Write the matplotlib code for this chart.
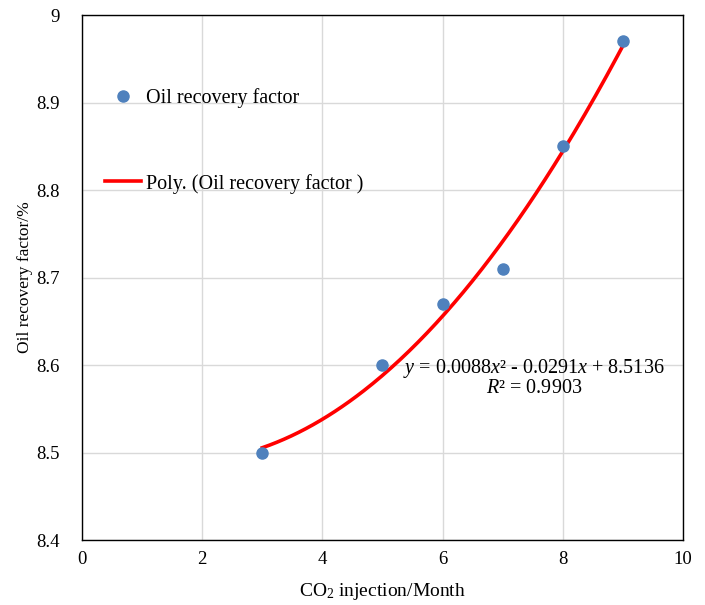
import matplotlib

matplotlib.use("Agg")
import matplotlib.pyplot as plt
import numpy as np

plt.rcParams["font.family"] = ["Liberation Serif", "DejaVu Serif"]
plt.rcParams["mathtext.fontset"] = "custom"
plt.rcParams["mathtext.rm"] = "Liberation Serif"
plt.rcParams["mathtext.it"] = "Liberation Serif:italic"

# data
months = [3, 5, 6, 7, 8, 9]
recovery = [8.50, 8.60, 8.67, 8.71, 8.85, 8.97]
x_ticks = [0, 2, 4, 6, 8, 10]
y_ticks = [8.4, 8.5, 8.6, 8.7, 8.8, 8.9, 9.0]
y_tick_labels = ["8.4", "8.5", "8.6", "8.7", "8.8", "8.9", "9"]

# second-order trend line, as Excel does it
coef = np.polyfit(months, recovery, 2)
xs = np.linspace(min(months), max(months), 200)

fig = plt.figure(figsize=(7.05, 6.05), dpi=100)
ax = fig.add_axes([0.1163, 0.1074, 0.8525, 0.8678])

ax.plot(months, recovery, "o", color="#4f81bd", markersize=8, zorder=3,
        label="Oil recovery factor")
ax.plot(xs, np.polyval(coef, xs), color="#ff0000", linewidth=2.6, zorder=2,
        label="Poly. (Oil recovery factor )")

ax.set_xlim(0, 10)
ax.set_ylim(8.4, 9.0)
ax.set_xticks(x_ticks)
ax.set_yticks(y_ticks)
ax.set_yticklabels(y_tick_labels)
ax.tick_params(length=0, labelsize=13.5)
ax.tick_params(axis="y", pad=16)
ax.tick_params(axis="x", pad=8)
ax.grid(True, color="#d9d9d9", linewidth=1.0)
ax.set_axisbelow(True)
for sp in ax.spines.values():
    sp.set_color("black")
    sp.set_linewidth(1.0)

ax.set_xlabel("CO$_2$ injection/Month", fontsize=14, labelpad=9)
ax.set_ylabel("Oil recovery factor/%", fontsize=12.5, labelpad=2)

ax.legend(loc="upper left", bbox_to_anchor=(0.008, 0.895), frameon=False,
          fontsize=14.5, numpoints=1, handlelength=1.8, handletextpad=0.25,
          labelspacing=3.25)

ax.text(0.752, 0.31, "$y$ = 0.0088$x$² - 0.0291$x$ + 8.5136\n$R$² = 0.9903",
        transform=ax.transAxes, ha="center", va="center", multialignment="center",
        fontsize=14.5, linespacing=0.95)

fig.savefig("out.png", dpi=100)
